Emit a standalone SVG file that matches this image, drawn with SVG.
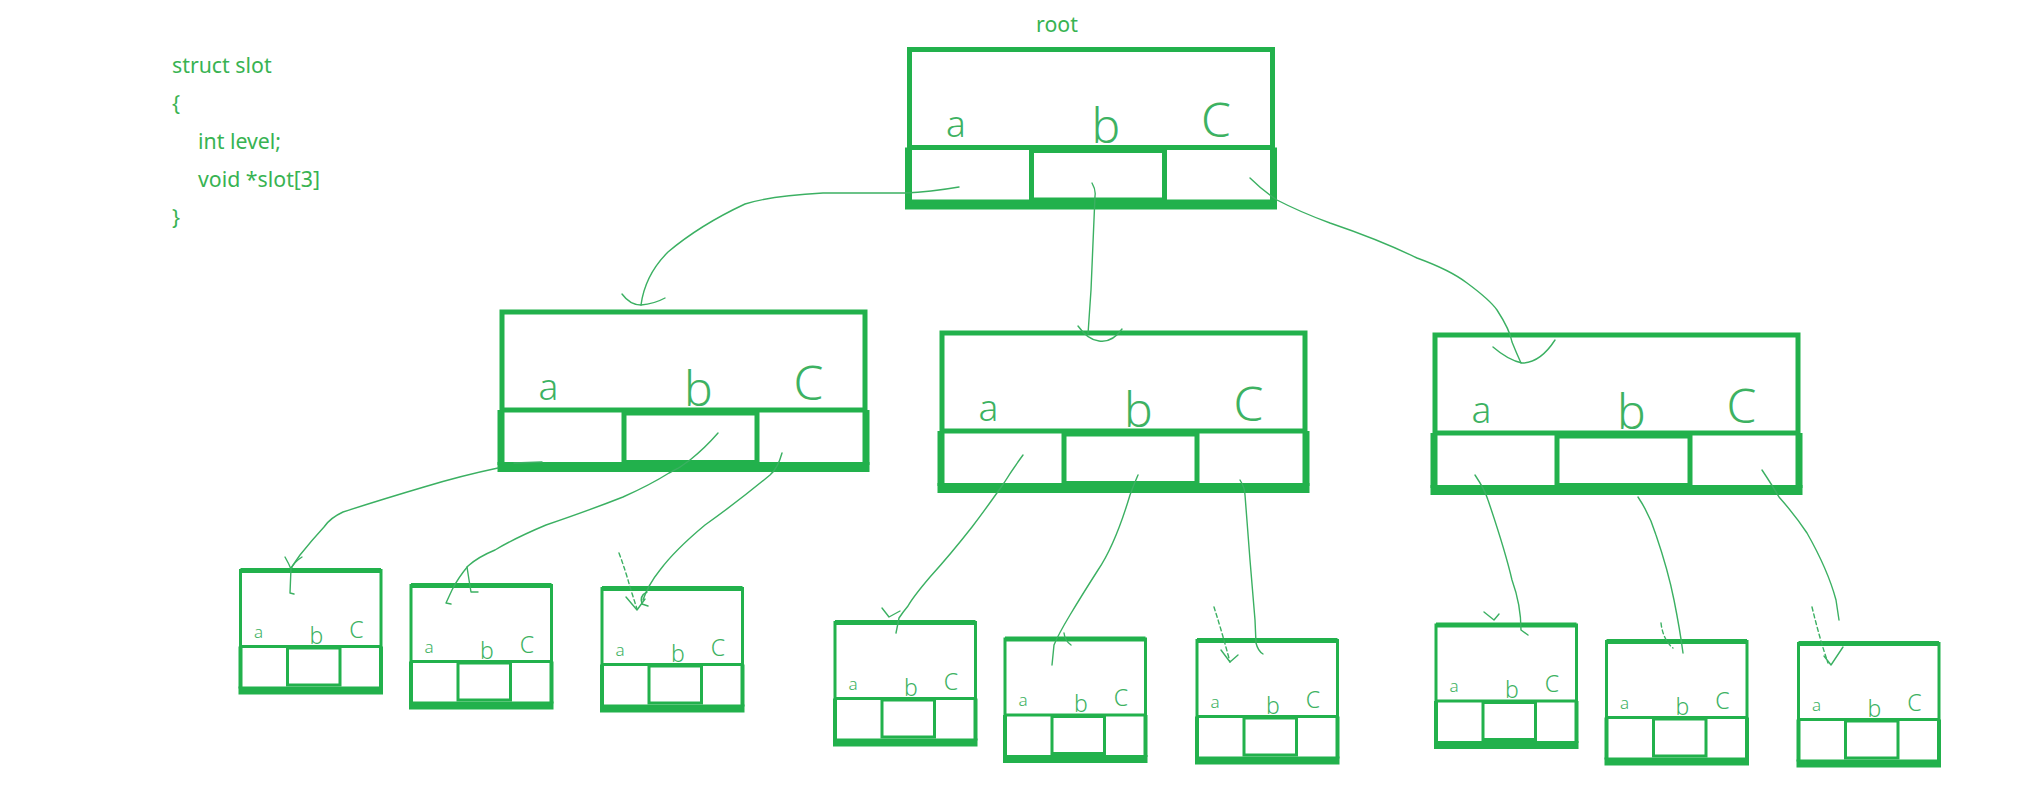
<svg xmlns="http://www.w3.org/2000/svg" xmlns:xlink="http://www.w3.org/1999/xlink" width="2017" height="800" viewBox="0 0 2017 800">
<style>
.bg{fill:#ffffff}
.code{font-family:"Noto Sans","Open Sans","Liberation Sans",sans-serif;font-size:21.3px;fill:#38b352}
.up{fill:none;stroke:#22b14c;stroke-width:5}
.side{fill:none;stroke:#22b14c;stroke-width:7}
.bar{fill:#22b14c}
.mid{fill:none;stroke:#22b14c;stroke-width:5}
.sup{fill:none;stroke:#22b14c;stroke-width:3}
.stop{fill:none;stroke:#22b14c;stroke-width:5}
.sside{fill:none;stroke:#22b14c;stroke-width:4}
.smid{fill:none;stroke:#22b14c;stroke-width:3}
.hl{font-family:"Noto Sans","Open Sans","Liberation Sans",sans-serif;font-weight:300;fill:#3db262;text-anchor:middle}
.la{font-size:37px}
.lb{font-size:48px}
.sa{font-size:17px}
.sb{font-size:23px}
.con{fill:none;stroke:#3bb062;stroke-width:1.4;stroke-linecap:round;stroke-linejoin:round}
.dash{stroke-dasharray:4 3}
</style>
<defs>
<g id="big">
<rect class="up" x="0" y="0" width="363" height="98"/>
<path class="side" d="M-1,98 V153 M364,98 V153"/>
<rect class="bar" x="-4.5" y="150" width="372" height="10"/>
<rect class="mid" x="122" y="101" width="133" height="49.5"/>
<text class="hl la" x="46.5" y="87.5">a</text>
<text class="hl lb" x="196.5" y="93.5">b</text>
<text class="hl lb" x="306.5" y="87.5">C</text>
</g>
<g id="small">
<rect class="sup" x="0" y="0" width="140.5" height="76"/>
<path class="stop" d="M0,0 H140.5"/>
<path class="sside" d="M0,76 V118 M140.5,76 V118"/>
<rect class="bar" x="-2" y="116" width="144.5" height="8"/>
<rect class="smid" x="47" y="77.5" width="52.5" height="37"/>
<text class="hl sa" x="18" y="67">a</text>
<text class="hl sb" x="76" y="73">b</text>
<text class="hl sb" x="116" y="67">C</text>
</g>
</defs>
<rect class="bg" x="0" y="0" width="2017" height="800"/>
<g id="code">
<text class="code" x="172" y="73">struct slot</text>
<text class="code" x="172" y="111">{</text>
<text class="code" x="198" y="149">int level;</text>
<text class="code" x="198" y="187">void *slot[3]</text>
<text class="code" x="172" y="225">}</text>
</g>
<g id="root">
<text class="code" x="1057" y="32" text-anchor="middle">root</text>
<use xlink:href="#big" href="#big" transform="translate(909.5,49.5)"/>
</g>
<g id="node-l"><use xlink:href="#big" href="#big" transform="translate(502,312)"/></g>
<g id="node-m"><use xlink:href="#big" href="#big" transform="translate(942,333)"/></g>
<g id="node-r"><use xlink:href="#big" href="#big" transform="translate(1435,335)"/></g>
<g id="leaf-1"><use xlink:href="#small" href="#small" transform="translate(240.5,570.5)"/></g>
<g id="leaf-2"><use xlink:href="#small" href="#small" transform="translate(411,585.5)"/></g>
<g id="leaf-3"><use xlink:href="#small" href="#small" transform="translate(602,588.5)"/></g>
<g id="leaf-4"><use xlink:href="#small" href="#small" transform="translate(835,622.5)"/></g>
<g id="leaf-5"><use xlink:href="#small" href="#small" transform="translate(1005,639)"/></g>
<g id="leaf-6"><use xlink:href="#small" href="#small" transform="translate(1197,640.5)"/></g>
<g id="leaf-7"><use xlink:href="#small" href="#small" transform="translate(1436,625)"/></g>
<g id="leaf-8"><use xlink:href="#small" href="#small" transform="translate(1606.5,641.5)"/></g>
<g id="leaf-9"><use xlink:href="#small" href="#small" transform="translate(1798.5,643.5)"/></g>
<g id="connectors">
<path class="con" d="M959,187 Q930,192 905,193 L823,193 Q770,196 745,204 Q700,225 668,252 Q645,275 641,305"/>
<path class="con" d="M622,294 Q630,305 641,305 Q654,304 665,298"/>
<path class="con" d="M1092,183 Q1096,190 1095,196 L1091,290 L1088,334"/>
<path class="con" d="M1078,326 Q1088,340 1099,341 Q1112,343 1122,329"/>
<path class="con" d="M1250,178 Q1262,190 1277,200 Q1300,212 1330,223 Q1380,240 1417,258 Q1450,270 1467,283 Q1490,300 1497,310 Q1510,330 1512,342 Q1516,352 1521,363"/>
<path class="con" d="M1493,347 Q1508,360 1522,363 Q1540,363 1555,340"/>
<path class="con" d="M514,463 L542,462"/>
<path class="con" d="M498,468 Q460,476 424,487 Q380,500 343,512 Q330,518 324,527 Q312,540 300,555 L291,568 L290,593 L294,594"/>
<path class="con" d="M285,557 Q289,564 291,569 Q294,562 302,557"/>
<path class="con" d="M718,433 Q705,448 690,460 Q680,468 669,473 Q650,485 623,497 Q590,510 546,525 Q515,538 495,550 Q478,557 468,566 Q458,578 452,590 L446,603 L451,604"/>
<path class="con" d="M467,567 Q469,580 471,592 L478,592"/>
<path class="con" d="M782,453 Q778,468 770,475 Q740,500 705,525 Q675,550 660,570 Q648,585 643,600"/>
<path class="con" d="M647,592 Q639,596 642,604 L648,606"/>
<path class="con dash" d="M619,553 Q626,572 630,587 L637,609"/>
<path class="con" d="M626,597 L637,610 L645,599"/>
<path class="con" d="M1023,455 Q1012,470 1004,483 Q985,510 972,527 Q950,555 930,577 Q913,597 908,606 Q903,612 899,618 L896,633"/>
<path class="con" d="M882,608 L889,617 L900,611"/>
<path class="con" d="M1138,475 Q1134,484 1130,495 Q1115,545 1098,570 Q1082,595 1070,615 Q1058,635 1054,645 L1052,665"/>
<path class="con" d="M1064,633 Q1065,641 1071,645"/>
<path class="con" d="M1240,480 Q1245,488 1245,495 L1250,560 L1255,620 L1256,643 Q1258,651 1263,654"/>
<path class="con dash" d="M1214,607 Q1222,632 1230,662"/>
<path class="con" d="M1221,650 L1230,662 L1238,655"/>
<path class="con" d="M1475,475 Q1485,490 1488,500 Q1505,550 1512,580 Q1521,605 1521,630 L1528,635"/>
<path class="con" d="M1484,612 L1494,620 L1499,614"/>
<path class="con" d="M1638,497 Q1650,515 1656,535 Q1668,570 1674,600 Q1680,630 1683,653"/>
<path class="con dash" d="M1661,623 Q1663,640 1673,648"/>
<path class="con" d="M1762,470 Q1772,485 1779,497 Q1795,515 1807,533 Q1828,570 1836,600 L1839,620"/>
<path class="con dash" d="M1812,607 Q1820,640 1828,663"/>
<path class="con" d="M1824,656 L1831,665 L1843,647"/>
</g>
</svg>
